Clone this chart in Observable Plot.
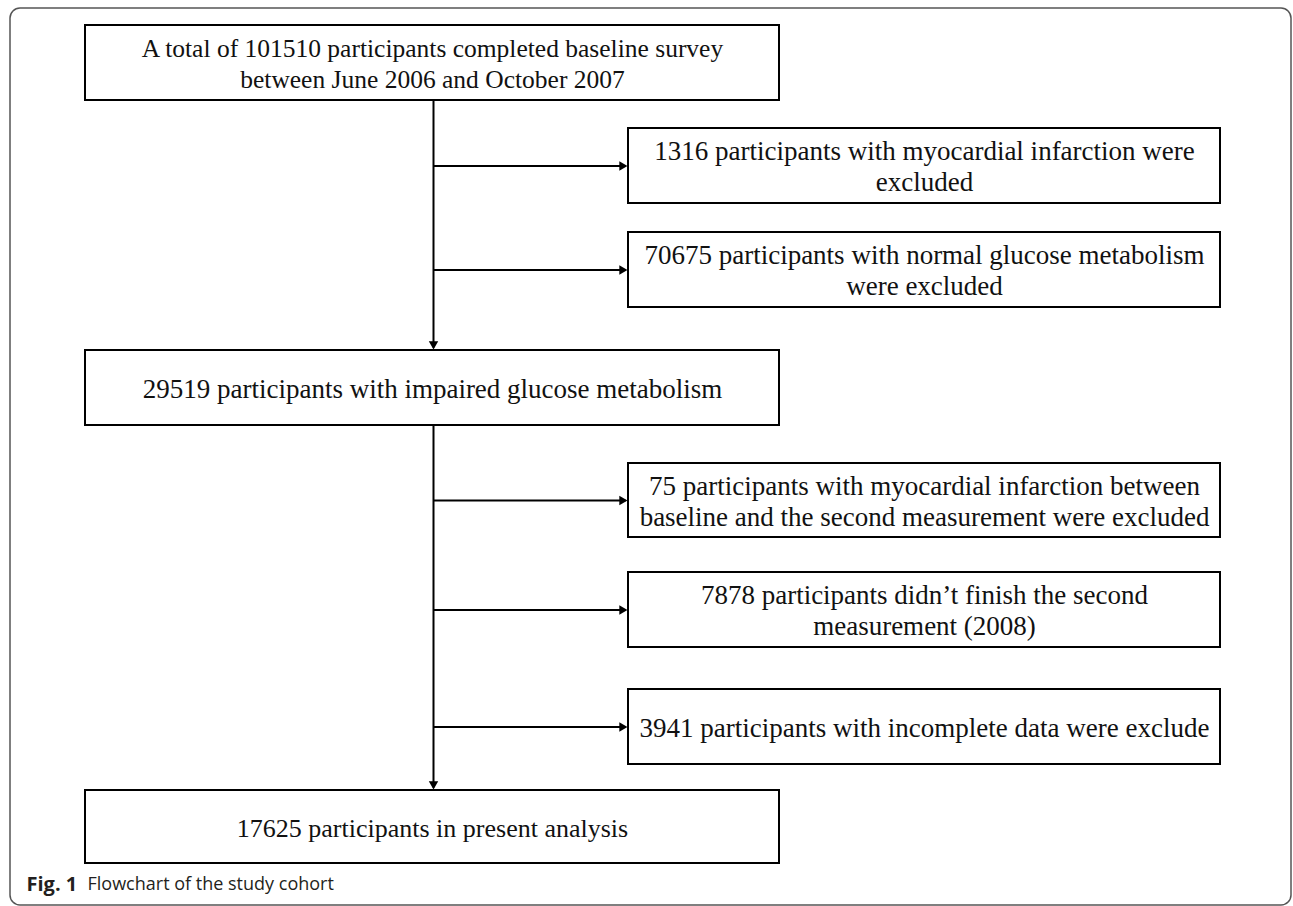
<!DOCTYPE html>
<html><head><meta charset="utf-8">
<script src="https://cdn.jsdelivr.net/npm/d3@7"></script>
<script src="https://cdn.jsdelivr.net/npm/@observablehq/plot@0.6"></script>
<style>body{margin:0;background:#fff}</style>
</head><body><div id="chart"></div>
<script>
// ---- content ----
const stepLabels = [
  "A total of 101510 participants completed baseline survey\nbetween June 2006 and October 2007",
  "29519 participants with impaired glucose metabolism",
  "17625 participants in present analysis"
];
const exclusionLabels = [
  "1316 participants with myocardial infarction were\nexcluded",
  "70675 participants with normal glucose metabolism\nwere excluded",
  "75 participants with myocardial infarction between\nbaseline and the second measurement were excluded",
  "7878 participants didn\u2019t finish the second\nmeasurement (2008)",
  "3941 participants with incomplete data were exclude"
];
const captionLabel = "Fig. 1";
const captionText = "Flowchart of the study cohort";

// ---- layout (pixels) ----
const W = 1293, H = 906;
const mainX = [85, 779], sideX = [628, 1220], spineX = 433;
const mainY = [[25, 100], [350, 425], [790, 863]];
const mainFont = [25.5, 27, 26];
const sideY = [[128, 203], [232, 307], [463, 537], [572, 647], [689, 764]];
const sideFont = 27;

const mainBoxes = stepLabels.map((label, i) => ({label, fs: mainFont[i], x1: mainX[0], x2: mainX[1], y1: mainY[i][0], y2: mainY[i][1]}));
const sideBoxes = exclusionLabels.map((label, i) => ({label, fs: sideFont, x1: sideX[0], x2: sideX[1], y1: sideY[i][0], y2: sideY[i][1]}));
const boxes = mainBoxes.concat(sideBoxes);

const spine = [
  {x1: spineX, y1: mainY[0][1], x2: spineX, y2: mainY[1][0] - 3},
  {x1: spineX, y1: mainY[1][1], x2: spineX, y2: mainY[2][0] - 3}
];
const branches = sideBoxes.map(b => ({x1: spineX, x2: b.x1, y: (b.y1 + b.y2) / 2}));

const r = 3.5;
const a = Math.sqrt(r * r * Math.PI / (Math.sqrt(3) * 3));
const headsRight = branches.map(b => ({x: b.x2 - 2 * a - 1, y: b.y}));
const headsDown = [mainY[1][0], mainY[2][0]].map(y => ({x: spineX, y: y - 2 * a - 1}));

const serif = "'Liberation Serif', 'Times New Roman', serif";
const sans = "'Open Sans', 'Noto Sans', sans-serif";

const textMarks = boxes.map(b => Plot.text([b], {
  x: d => (d.x1 + d.x2) / 2, y: d => (d.y1 + d.y2) / 2, text: "label",
  fontFamily: serif, fontSize: b.fs, lineHeight: 31 / b.fs,
  textAnchor: "middle", lineAnchor: "middle", fill: "#111"
}));

const chart = Plot.plot({
  width: W, height: H,
  margin: 0,
  x: {domain: [0, W], range: [0, W], axis: null},
  y: {domain: [0, H], range: [0, H], axis: null},
  style: {background: "#fff"},
  marks: [
    Plot.rect([{x1: 10, x2: 1291, y1: 8, y2: 905}], {x1: "x1", x2: "x2", y1: "y1", y2: "y2", fill: "none", stroke: "#555", strokeWidth: 1.5, rx: 10}),
    Plot.link(spine, {x1: "x1", y1: "y1", x2: "x2", y2: "y2", stroke: "#000", strokeWidth: 2}),
    Plot.link(branches, {x1: "x1", y1: "y", x2: d => d.x2 - 3, y2: "y", stroke: "#000", strokeWidth: 2}),
    Plot.dot(headsRight, {x: "x", y: "y", symbol: "triangle", r, rotate: 90, fill: "#000", stroke: "none"}),
    Plot.dot(headsDown, {x: "x", y: "y", symbol: "triangle", r, rotate: 180, fill: "#000", stroke: "none"}),
    Plot.rect(boxes, {x1: "x1", x2: "x2", y1: "y1", y2: "y2", fill: "#fff", stroke: "#000", strokeWidth: 2}),
    ...textMarks,
    Plot.text([captionLabel], {x: 26, y: 884, text: d => d, fontFamily: sans, fontWeight: "bold", fontSize: 20, textAnchor: "start", lineAnchor: "middle", fill: "#231f20"}),
    Plot.text([captionText], {x: 87, y: 884, text: d => d, fontFamily: sans, fontSize: 18, textAnchor: "start", lineAnchor: "middle", fill: "#231f20"})
  ]
});
document.getElementById("chart").appendChild(chart);
</script>
</body></html>
